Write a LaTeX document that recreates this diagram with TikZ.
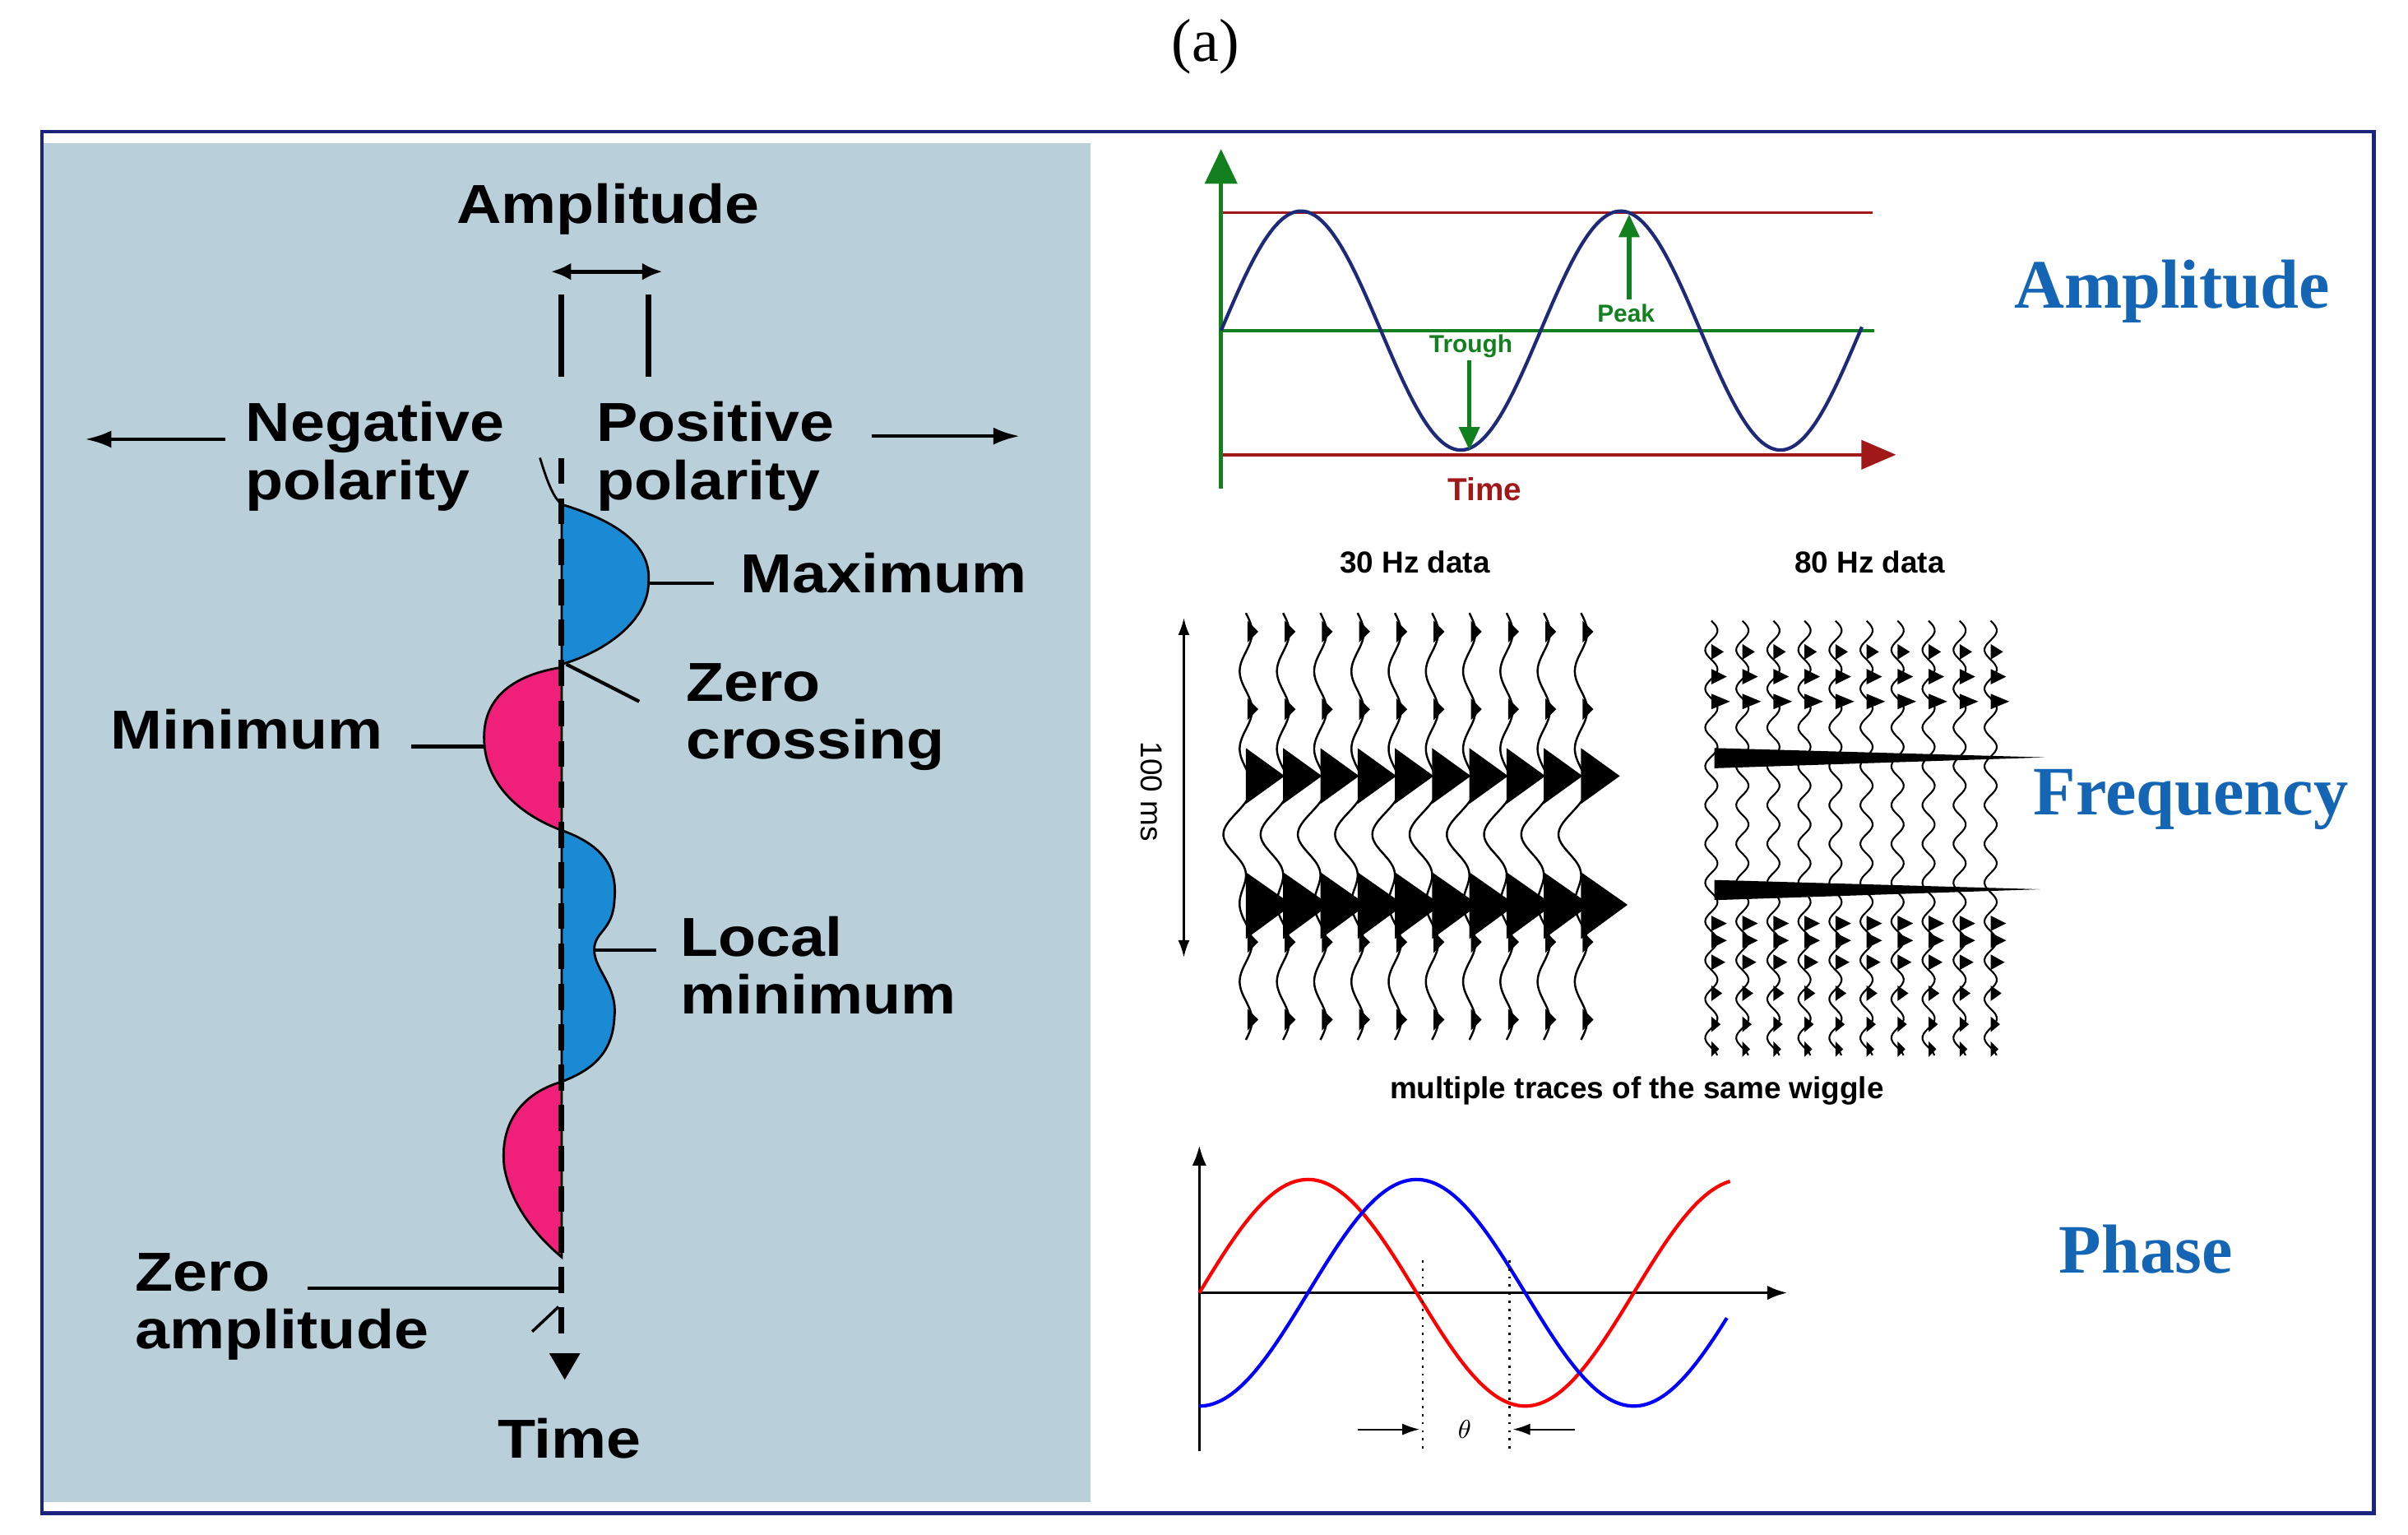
\documentclass[tikz,border=0pt]{standalone}
\usepackage{fontspec}
\setmainfont{Liberation Serif}
\newfontfamily\lsans{Liberation Sans}
\newfontfamily\lsansw{Liberation Sans}[FakeStretch=1.13]
\usetikzlibrary{arrows.meta}
\definecolor{panelbg}{HTML}{B9D0DA}
\definecolor{navyframe}{HTML}{1A237E}
\definecolor{lobeblue}{HTML}{1A8AD4}
\definecolor{lobepink}{HTML}{F0207A}
\definecolor{ttlblue}{HTML}{1565B5}
\definecolor{grn}{HTML}{12801E}
\definecolor{dred}{HTML}{A01818}
\definecolor{sinnavy}{HTML}{1E2A78}
\begin{document}
\begin{tikzpicture}[x=0.01887cm,y=-0.01887cm,
  big/.style={font=\lsansw\bfseries\fontsize{19}{20}\selectfont, inner sep=0pt, align=left},
  ttl/.style={font=\bfseries\fontsize{24}{28}\selectfont, text=ttlblue, inner sep=0pt},
  small/.style={font=\lsans\bfseries\fontsize{10.5}{12}\selectfont, inner sep=0pt},
  lead/.style={line width=1.2pt}]
\useasboundingbox (0,0) rectangle (1552,989);
\fill[white] (0,0) rectangle (1552,989);
\node[font=\fontsize{21}{24}\selectfont] (lbl) at (777,30) {(a)};
\draw[navyframe,line width=1.2pt] (27,85) rectangle (1530,975);
% left panel
\fill[panelbg] (28,92) rectangle (703,968);
\fill[lobeblue,draw=black,line width=0.8pt] (362,325) .. controls (395,335) and (420,350) .. (418,375) .. controls (418,400) and (390,420) .. (362,428) -- cycle;
\fill[lobepink,draw=black,line width=0.8pt] (362,430) .. controls (330,435) and (312,450) .. (312,475) .. controls (312,505) and (335,525) .. (362,535) -- cycle;
\fill[lobeblue,draw=black,line width=0.8pt] (362,535) .. controls (390,545) and (398,560) .. (396,580) .. controls (395,600) and (383,600) .. (383,612) .. controls (383,625) and (398,635) .. (396,655) .. controls (395,680) and (380,690) .. (362,697) -- cycle;
\fill[lobepink,draw=black,line width=0.8pt] (362,697) .. controls (335,705) and (322,725) .. (325,752) .. controls (330,780) and (350,800) .. (362,810) -- cycle;
\draw[line width=0.8pt] (348,295) .. controls (352,308) and (356,320) .. (362,325);
\draw[line width=2pt,dash pattern=on 9pt off 5pt] (362,295) -- (362,862);
\fill (354,872) -- (374,872) -- (364,889) -- cycle;
\draw[line width=1pt] (343,858) -- (360,842);
\node[big] (amp) at (392,135) {Amplitude};
\coordinate (da) at (355,175); \coordinate (db) at (427,175);
\draw[line width=1.4pt,{Latex[length=7pt,width=6pt]}-{Latex[length=7pt,width=6pt]}] (da) -- (db);
\draw[line width=2pt] (362,190) -- (362,243) (418,190) -- (418,243);
\node[big,anchor=west] (neg) at (158,294) {Negative\\polarity};
\node[big,anchor=west] (pos) at (384,294) {Positive\\polarity};
\coordinate (nl) at (55,283); \coordinate (pr) at (657,281);
\draw[lead,{Latex[length=9pt,width=6pt]}-] (nl) -- (145,283);
\draw[lead,-{Latex[length=9pt,width=6pt]}] (562,281) -- (pr);
\node[big,anchor=west] (max) at (477,369) {Maximum};
\draw[lead] (418,376) -- (460,376);
\node[big,anchor=west] (zc) at (442,462) {Zero\\crossing};
\draw[lead] (365,428) -- (412,452);
\node[big,anchor=east] (min) at (247,470) {Minimum};
\draw[lead] (265,481) -- (312,481);
\node[big,anchor=west] (lm) at (438,622) {Local\\minimum};
\draw[lead] (383,612) -- (423,612);
\node[big,anchor=west] (za) at (87,842) {Zero\\amplitude};
\draw[lead] (198,830) -- (362,830);
\node[big] (tm) at (367,927) {Time};
% amplitude plot
\draw[dred,line width=0.8pt] (787,137) -- (1207,137);
\draw[grn,line width=1.2pt] (787,213) -- (1208,213);
\draw[dred,line width=1.2pt,-{Triangle[length=12pt,width=10pt]}] (787,293) -- (1222,293);
\draw[grn,line width=1.5pt,-{Triangle[length=12pt,width=11pt]}] (787,315) -- (787,96);
\draw[sinnavy,line width=1.2pt] plot[domain=787:1200,samples=150,smooth] ({\x},{213-77*sin((\x-787)/206*360)});
\draw[grn,line width=1.5pt,-{Triangle[length=8pt,width=7pt]}] (947,232) -- (947,290);
\draw[grn,line width=1.5pt,-{Triangle[length=8pt,width=7pt]}] (1050,193) -- (1050,138);
\node[small,text=grn,font=\lsans\bfseries\fontsize{8.5}{10}\selectfont] (tr) at (948,223) {Trough};
\node[small,text=grn,font=\lsans\bfseries\fontsize{8.5}{10}\selectfont] (pk) at (1048,202) {Peak};
\node[small,text=dred,font=\lsans\bfseries\fontsize{11}{12}\selectfont] (tt) at (957,315) {Time};
\node[ttl] (t1) at (1400,188) {Amplitude};
% frequency
\node[small] (h30) at (912,362) {30 Hz data};
\node[small] (h80) at (1205,362) {80 Hz data};
\node[small,font=\lsans\fontsize{10.5}{12}\selectfont,rotate=-90] (ms) at (742,510) {100 ms};
\draw[line width=0.8pt,{Latex[length=6pt,width=4pt]}-{Latex[length=6pt,width=4pt]}] (763,398) -- (763,617);
\foreach \i in {0,...,9}{
  \pgfmathsetmacro\xo{803+24*\i}
  \draw[line width=0.7pt] plot[domain=395:670,samples=110,smooth] ({\xo+4*sin(7.2*(\x-395))-12*exp(-((\x-542)/18)^2)},{\x});
  \foreach \yy in {407,457,607,657}{\fill (\xo+1,\yy-7) -- (\xo+8,\yy) -- (\xo+1,\yy+7) -- cycle;}
  \fill (\xo,482) -- (\xo+25,500) -- (\xo,518) -- cycle;
  \fill (\xo,562) -- (\xo+30,583) -- (\xo,605) -- cycle;
}
\foreach \i in {0,...,9}{
  \pgfmathsetmacro\xo{1103+20*\i}
  \draw[line width=0.6pt] plot[domain=400:680,samples=160,smooth] ({\xo+4*sin(14.4*(\x-400))},{\x});
  \foreach \yy/\w in {420/8,436/10,452/12,595/10,606/10,620/9,640/7,660/6,676/5}{\fill (\xo,\yy-5) -- (\xo+\w,\yy) -- (\xo,\yy+5) -- cycle;}
}
\fill (1105,482) -- (1318,488) -- (1105,495) -- cycle;
\fill (1105,567) -- (1315,573) -- (1105,580) -- cycle;
\node[small,font=\lsans\bfseries\fontsize{10.5}{12}\selectfont] (mt) at (1055,703) {multiple traces of the same wiggle};
\node[ttl] (t2) at (1412,515) {Frequency};
% phase
\draw[line width=1pt,-{Latex[length=7pt,width=5pt]}] (773,935) -- (773,738);
\draw[line width=1pt,-{Latex[length=7pt,width=5pt]}] (773,833) -- (1152,833);
\draw[red,line width=1.2pt] plot[domain=773:1115,samples=140,smooth] ({\x},{833-73*sin((\x-773)/280*360)});
\draw[blue,line width=1.2pt] plot[domain=773:1113,samples=140,smooth] ({\x},{833+73*cos((\x-773)/280*360)});
\draw[dotted,line width=0.8pt] (917,812) -- (917,937) (973,812) -- (973,937);
\draw[line width=0.6pt,-{Latex[length=6pt,width=4pt]}] (875,921) -- (915,921);
\draw[line width=0.6pt,-{Latex[length=6pt,width=4pt]}] (1015,921) -- (975,921);
\node[font=\itshape\fontsize{9}{10}\selectfont] (th) at (944,921) {$\theta$};
\node[ttl] (t3) at (1383,805) {Phase};
\end{tikzpicture}
\end{document}
